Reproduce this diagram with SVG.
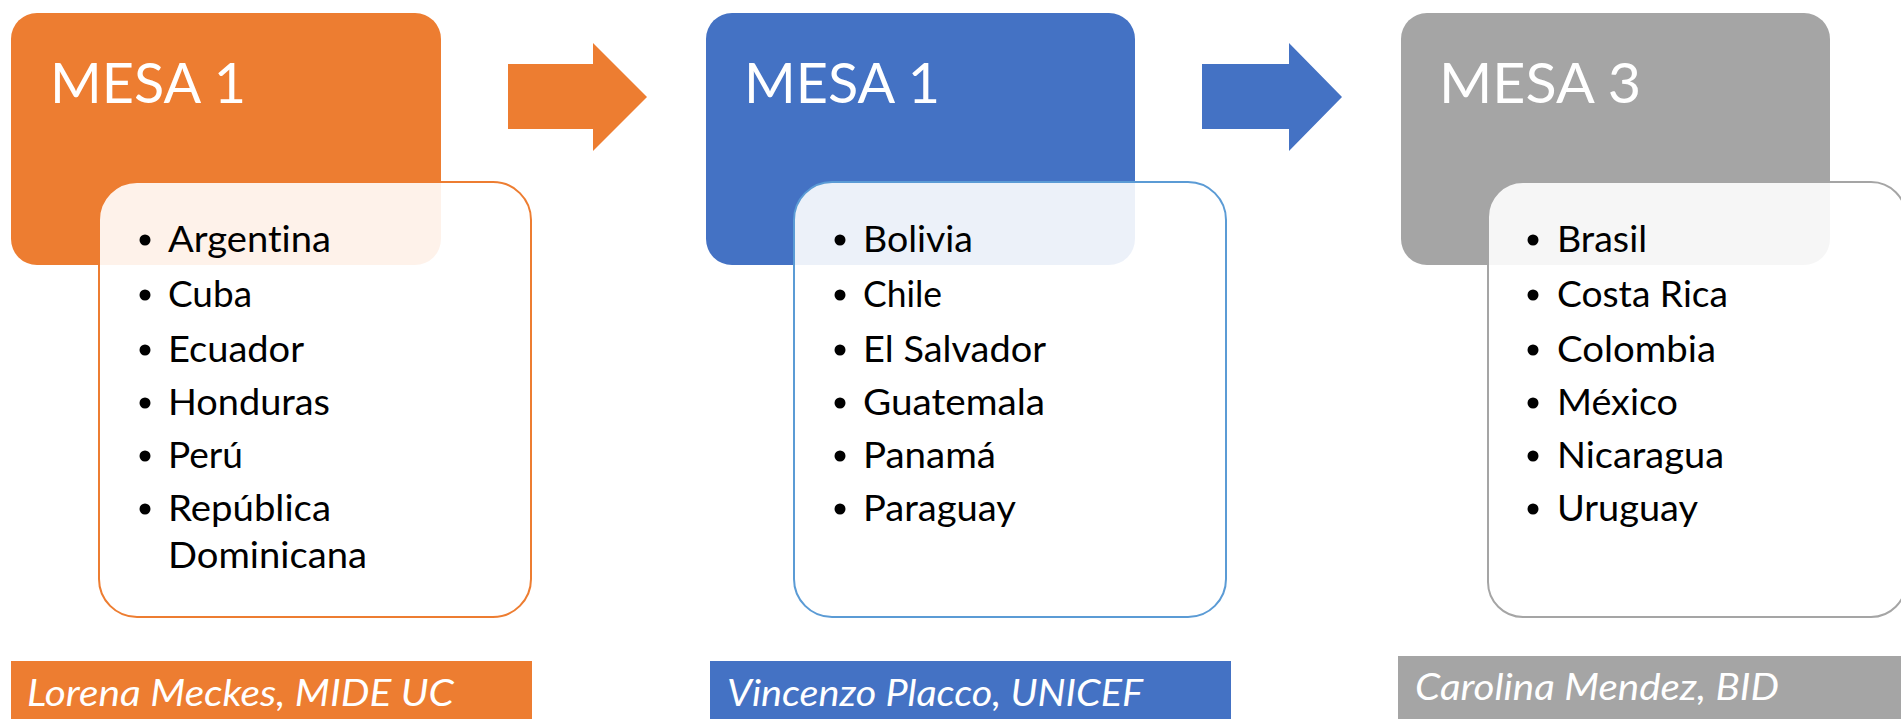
<svg xmlns="http://www.w3.org/2000/svg" width="1901" height="719" viewBox="0 0 1901 719">
<style>
text{font-variant-ligatures:none;font-feature-settings:"liga" 0,"clig" 0,"dlig" 0}
.head{font-family:Lato,"Open Sans",sans-serif;font-size:57px;fill:#fff}
.item{font-family:Lato,"Open Sans",sans-serif;font-size:36px;fill:#000}
.foot{font-family:Lato,"Open Sans",sans-serif;font-size:36px;font-style:italic;fill:#fff}
.card{fill:#fff;fill-opacity:0.9;stroke-width:2}
.dot{fill:#000}
</style>
<rect width="1901" height="719" fill="#fff"/>
<g id="mesa1-orange">
<rect x="11" y="13" width="430" height="252" rx="26" fill="#ED7D31"/>
<text class="head" x="50" y="103" textLength="196" lengthAdjust="spacingAndGlyphs">MESA 1</text>
<rect class="card" x="99" y="182" width="432" height="435" rx="38" stroke="#ED7D31"/>
<g>
<circle class="dot" cx="145" cy="240" r="5.5"/><text class="item" x="168" y="252" textLength="163" lengthAdjust="spacingAndGlyphs">Argentina</text>
<circle class="dot" cx="145" cy="295" r="5.5"/><text class="item" x="168" y="307" textLength="84" lengthAdjust="spacingAndGlyphs">Cuba</text>
<circle class="dot" cx="145" cy="350" r="5.5"/><text class="item" x="168" y="362" textLength="136" lengthAdjust="spacingAndGlyphs">Ecuador</text>
<circle class="dot" cx="145" cy="403" r="5.5"/><text class="item" x="168" y="415" textLength="162" lengthAdjust="spacingAndGlyphs">Honduras</text>
<circle class="dot" cx="145" cy="456" r="5.5"/><text class="item" x="168" y="468" textLength="75" lengthAdjust="spacingAndGlyphs">Perú</text>
<circle class="dot" cx="145" cy="509" r="5.5"/><text class="item" x="168" y="521" textLength="163" lengthAdjust="spacingAndGlyphs">República</text>
<text class="item" x="168" y="568" textLength="199" lengthAdjust="spacingAndGlyphs">Dominicana</text>
</g>
<rect x="11" y="661" width="521" height="58" fill="#ED7D31"/>
<text class="foot" x="27" y="706" textLength="427" lengthAdjust="spacingAndGlyphs">Lorena Meckes, MIDE UC</text>
</g>
<g id="mesa1-blue">
<rect x="706" y="13" width="429" height="252" rx="26" fill="#4472C4"/>
<text class="head" x="744" y="103" textLength="196" lengthAdjust="spacingAndGlyphs">MESA 1</text>
<rect class="card" x="794" y="182" width="432" height="435" rx="38" stroke="#5B9BD5"/>
<g>
<circle class="dot" cx="840" cy="240" r="5.5"/><text class="item" x="863" y="252" textLength="110" lengthAdjust="spacingAndGlyphs">Bolivia</text>
<circle class="dot" cx="840" cy="295" r="5.5"/><text class="item" x="863" y="307" textLength="79" lengthAdjust="spacingAndGlyphs">Chile</text>
<circle class="dot" cx="840" cy="350" r="5.5"/><text class="item" x="863" y="362" textLength="183" lengthAdjust="spacingAndGlyphs">El Salvador</text>
<circle class="dot" cx="840" cy="403" r="5.5"/><text class="item" x="863" y="415" textLength="182" lengthAdjust="spacingAndGlyphs">Guatemala</text>
<circle class="dot" cx="840" cy="456" r="5.5"/><text class="item" x="863" y="468" textLength="133" lengthAdjust="spacingAndGlyphs">Panamá</text>
<circle class="dot" cx="840" cy="509" r="5.5"/><text class="item" x="863" y="521" textLength="153" lengthAdjust="spacingAndGlyphs">Paraguay</text>
</g>
<rect x="710" y="661" width="521" height="58" fill="#4472C4"/>
<text class="foot" x="727" y="706" textLength="416" lengthAdjust="spacingAndGlyphs">Vincenzo Placco, UNICEF</text>
</g>
<g id="mesa3-gray">
<rect x="1401" y="13" width="429" height="252" rx="26" fill="#A5A5A5"/>
<text class="head" x="1439" y="103" textLength="202" lengthAdjust="spacingAndGlyphs">MESA 3</text>
<rect class="card" x="1488" y="182" width="418" height="435" rx="35" stroke="#A5A5A5"/>
<g>
<circle class="dot" cx="1533" cy="240" r="5.5"/><text class="item" x="1557" y="252" textLength="90" lengthAdjust="spacingAndGlyphs">Brasil</text>
<circle class="dot" cx="1533" cy="295" r="5.5"/><text class="item" x="1557" y="307" textLength="171" lengthAdjust="spacingAndGlyphs">Costa Rica</text>
<circle class="dot" cx="1533" cy="350" r="5.5"/><text class="item" x="1557" y="362" textLength="159" lengthAdjust="spacingAndGlyphs">Colombia</text>
<circle class="dot" cx="1533" cy="403" r="5.5"/><text class="item" x="1557" y="415" textLength="121" lengthAdjust="spacingAndGlyphs">México</text>
<circle class="dot" cx="1533" cy="456" r="5.5"/><text class="item" x="1557" y="468" textLength="167" lengthAdjust="spacingAndGlyphs">Nicaragua</text>
<circle class="dot" cx="1533" cy="509" r="5.5"/><text class="item" x="1557" y="521" textLength="141" lengthAdjust="spacingAndGlyphs">Uruguay</text>
</g>
<rect x="1398" y="656" width="503" height="63" fill="#A5A5A5"/>
<text class="foot" x="1415" y="700" textLength="364" lengthAdjust="spacingAndGlyphs">Carolina Mendez, BID</text>
</g>
<g id="connectors">
<polygon points="508,64 593,64 593,43 647,97 593,151 593,129 508,129" fill="#ED7D31"/>
<polygon points="1202,64 1289,64 1289,43 1342,97 1289,151 1289,129 1202,129" fill="#4472C4"/>
</g>
</svg>
